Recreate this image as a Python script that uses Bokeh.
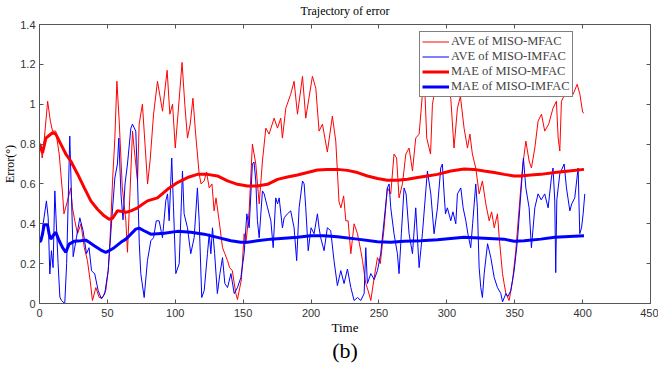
from bokeh.plotting import figure
from bokeh.models import (FixedTicker, LinearAxis, Legend, LegendItem,
                          CustomJSTickFormatter, Range1d)
from bokeh.embed import file_html
from bokeh.resources import INLINE

# ---- data -------------------------------------------------------------
x_ticks = [0, 50, 100, 150, 200, 250, 300, 350, 400, 450]
y_ticks = [0, 0.2, 0.4, 0.6, 0.8, 1.0, 1.2, 1.4]

series_names = ["AVE of MISO-MFAC", "AVE of MISO-IMFAC",
                "MAE of MISO-MFAC", "MAE of MISO-IMFAC"]

# absolute value of error, MISO-MFAC
ave_mfac_t = [0, 1, 2, 3.4, 6, 8, 9.6, 12, 14.5, 17, 18, 20.6, 23, 24.3, 26, 28, 30.5, 33,
              35.3, 37.3, 39, 41.5, 44, 46.4, 48.8, 50.6, 52, 53.8, 55.5, 57, 58.7, 61,
              63.6, 64.8, 66.8, 68.5, 69.7, 72.2, 73.4, 75.8, 79.6, 81.5, 84, 86.9, 90.6,
              94, 96, 98, 100, 102, 105, 107, 109, 111, 113, 115, 117.6, 119, 121.3, 123,
              125, 127, 128.6, 130, 132.3, 134.8, 136.5, 138.5, 140, 142, 144.6, 145.8,
              148.7, 150.7, 152, 154.4, 156.8, 159.3, 161.8, 164.2, 166.7, 169.1, 172.8,
              175.3, 177.7, 178.9, 181.4, 185, 187.5, 190, 193.7, 196.1, 201, 203.5, 205.9,
              208.4, 212, 215.7, 218.2, 220.6, 222, 224, 225.6, 227.3, 229.3, 231.7, 234.2,
              236.6, 237.9, 240.3, 242, 244, 246.5, 248.9, 251, 253.8, 256.2, 258.7, 261.1,
              263, 264.8, 267.3, 269.8, 272.2, 274.7, 277.1, 279.6, 282, 283.5, 285.2, 288,
              289.4, 292, 295, 298, 300, 302.9, 305.3, 307.8, 310, 312.7, 315.2, 317, 318.8,
              321.3, 323.8, 326.2, 328.7, 331.2, 333, 334.9, 337.3, 338.6, 341, 342.2, 343.5,
              345.9, 348.4, 350.8, 353.3, 355.7, 358.2, 360.6, 362.3, 364.8, 367.2, 369.7,
              372.1, 375, 378.2, 380.7, 382, 383.2, 384.4, 387, 390, 393, 396, 398, 400, 401]
ave_mfac = [0.80, 0.80, 0.73, 0.815, 1.015, 0.915, 0.865, 0.865, 0.75, 0.55, 0.45, 0.515,
            0.58, 0.48, 0.415, 0.35, 0.40, 0.28, 0.215, 0.115, 0.015, 0.08, 0.03, 0.03,
            0.065, 0.165, 0.33, 0.615, 0.83, 1.115, 0.915, 0.58, 0.415, 0.257, 0.58, 0.865,
            0.78, 0.615, 0.9, 1.0, 0.6, 0.72, 0.95, 1.115, 0.965, 1.17, 0.95, 1.0, 0.78,
            0.95, 1.21, 1.0, 0.83, 0.9, 1.03, 0.85, 0.65, 0.6, 0.615, 0.66, 0.58, 0.6,
            0.465, 0.53, 0.415, 0.28, 0.25, 0.215, 0.18, 0.165, 0.05, 0.02, 0.12, 0.35,
            0.3, 0.465, 0.8, 0.7, 0.5, 0.715, 0.88, 0.85, 0.93, 0.88, 0.93, 0.83, 0.98,
            1.05, 1.115, 0.95, 1.14, 0.93, 1.14, 1.08, 0.865, 0.9, 0.76, 0.94, 0.815, 0.51,
            0.48, 0.54, 0.415, 0.415, 0.25, 0.4, 0.35, 0.265, 0.215, 0.1, 0.065, 0.015,
            0.13, 0.23, 0.2, 0.38, 0.58, 0.55, 0.75, 0.73, 0.53, 0.6, 0.75, 0.78, 0.665,
            0.83, 0.85, 1.05, 1.12, 0.83, 0.75, 1.0, 1.1, 1.15, 1.05, 1.1, 1.03, 0.78, 0.98,
            1.04, 0.88, 0.78, 0.85, 0.75, 0.68, 0.55, 0.615, 0.5, 0.415, 0.46, 0.38, 0.45,
            0.33, 0.15, 0.1, 0.05, 0.015, 0.115, 0.265, 0.48, 0.68, 0.815, 0.715, 0.68,
            0.78, 0.915, 0.95, 0.865, 0.9, 0.98, 1.015, 0.83, 0.765, 1.015, 1.05, 1.1, 1.05,
            1.1, 1.05, 0.96, 0.955]

# absolute value of error, MISO-IMFAC
ave_imfac_t = [0, 1.5, 2.7, 5.1, 6.4, 7.6, 8.8, 10, 11.3, 13.7, 15, 16.2, 18.6, 20, 22.3,
               24.8, 27.2, 29.7, 32.1, 34.6, 36.5, 38.3, 40.7, 43.2, 45.6, 48, 50.6, 53,
               55.5, 57.4, 58.4, 60, 61.5, 63, 64.8, 67.3, 68.5, 70.9, 72.2, 73.5, 74.6,
               77.1, 79.5, 82, 84, 86, 88.1, 90.6, 93, 94.3, 95.5, 97.4, 98.7, 100.4, 102.9,
               105.3, 106.5, 109, 111.4, 113.9, 116.3, 117.6, 119.5, 121.3, 123.7, 125,
               126.2, 127.4, 129, 131, 132.9, 134.8, 136.5, 138.5, 141, 143.4, 145.8, 148.3,
               150.7, 152.7, 154.4, 156.8, 158, 159.3, 160.5, 161.8, 164.2, 165.5, 166.7,
               168, 170.4, 172.1, 174, 175.3, 176.5, 178.9, 180.2, 182.6, 185, 187.5, 189.4,
               191.2, 193.7, 194.9, 196.1, 197.9, 200, 202.2, 204.7, 205.9, 207.1, 209.6,
               212, 214.5, 216.9, 219.4, 221.9, 224.3, 226.8, 229.3, 231.7, 234.2, 236.6,
               239.1, 240.3, 241.5, 244, 246.5, 248.9, 251.3, 253.8, 256.2, 257.5, 258.7,
               261.1, 263.6, 264.8, 266.5, 268.5, 270, 272.2, 274.7, 277.1, 279.6, 282,
               284.5, 285.7, 288.2, 290.6, 293.1, 295.5, 296.7, 298, 299, 300.4, 302.9,
               304.5, 306.6, 307.8, 310.3, 312, 314, 315.5, 317.6, 319, 321.3, 322.5, 323.8,
               325, 326.2, 327.5, 330, 332.4, 334.9, 337.3, 339.8, 341, 343.5, 345, 347.1,
               349.6, 352, 354.5, 356.4, 358.2, 360.6, 362.3, 364.8, 367.2, 369.5, 372.1,
               374.6, 377, 378.2, 379.5, 380.2, 381, 383.2, 386.4, 388.1, 390.6, 392, 394.2,
               396.7, 397.9, 399.2, 400.4, 401.6]
ave_imfac = [0.31, 0.315, 0.4, 0.515, 0.43, 0.148, 0.265, 0.18, 0.565, 0.2, 0.032, 0.015,
             0.0, 0.2, 0.84, 0.235, 0.33, 0.43, 0.365, 0.25, 0.28, 0.165, 0.148, 0.065,
             0.023, 0.048, 0.165, 0.4, 0.63, 0.7, 0.83, 0.55, 0.42, 0.6, 0.7, 0.88, 0.9,
             0.865, 0.615, 0.3, 0.15, 0.03, 0.215, 0.315, 0.33, 0.415, 0.415, 0.33, 0.515,
             0.55, 0.415, 0.73, 0.48, 0.15, 0.2, 0.665, 0.45, 0.38, 0.25, 0.33, 0.58, 0.415,
             0.03, 0.065, 0.25, 0.35, 0.25, 0.38, 0.25, 0.05, 0.15, 0.23, 0.1, 0.08, 0.15,
             0.05, 0.08, 0.13, 0.25, 0.45, 0.38, 0.7, 0.71, 0.615, 0.415, 0.33, 0.565, 0.55,
             0.515, 0.48, 0.415, 0.28, 0.53, 0.5, 0.53, 0.38, 0.43, 0.45, 0.465, 0.38, 0.215,
             0.48, 0.615, 0.6, 0.48, 0.265, 0.38, 0.35, 0.45, 0.38, 0.33, 0.265, 0.38, 0.365,
             0.215, 0.09, 0.165, 0.1, 0.173, 0.08, 0.015, 0.03, 0.015, 0.05, 0.28, 0.1,
             0.15, 0.12, 0.165, 0.25, 0.415, 0.58, 0.6, 0.48, 0.35, 0.25, 0.15, 0.35, 0.58,
             0.55, 0.35, 0.25, 0.48, 0.18, 0.35, 0.565, 0.665, 0.55, 0.35, 0.48, 0.68, 0.7,
             0.55, 0.45, 0.48, 0.415, 0.46, 0.4, 0.55, 0.58, 0.48, 0.415, 0.35, 0.28, 0.4,
             0.6, 0.48, 0.18, 0.08, 0.03, 0.15, 0.3, 0.23, 0.13, 0.08, 0.05, 0.008, 0.05,
             0.035, 0.065, 0.165, 0.315, 0.55, 0.73, 0.58, 0.48, 0.28, 0.48, 0.55, 0.52,
             0.55, 0.48, 0.63, 0.68, 0.515, 0.155, 0.52, 0.65, 0.7, 0.58, 0.465, 0.5, 0.53,
             0.68, 0.35, 0.38, 0.45, 0.55]

# mean absolute error, MISO-MFAC
mae_mfac_t = [0, 2.2, 4.7, 9.6, 12, 15.7, 19.4, 23, 28, 33, 37.8, 42.7, 47.6, 51.3, 53.8,
              57.4, 61, 63.6, 67.3, 72.2, 79.5, 86.9, 94.3, 101.6, 109, 116.3, 123.7, 131,
              138.5, 145.8, 153.2, 160.5, 167.9, 175.3, 182.6, 190, 197.3, 204.7, 212,
              219.4, 226.8, 234.2, 241.5, 248.9, 256.2, 263.6, 271, 278.4, 285.7, 293.1,
              302.9, 312.7, 320, 327.4, 334.9, 342.2, 349.6, 354.5, 361.8, 369.2, 379.5,
              390, 401]
mae_mfac = [0.80, 0.755, 0.83, 0.857, 0.85, 0.80, 0.75, 0.715, 0.65, 0.58, 0.515, 0.473,
            0.44, 0.423, 0.428, 0.465, 0.462, 0.457, 0.465, 0.48, 0.515, 0.53, 0.573, 0.607,
            0.632, 0.648, 0.648, 0.64, 0.615, 0.598, 0.59, 0.59, 0.598, 0.623, 0.635, 0.645,
            0.657, 0.67, 0.673, 0.673, 0.668, 0.657, 0.64, 0.627, 0.618, 0.618, 0.623, 0.632,
            0.64, 0.648, 0.665, 0.675, 0.673, 0.665, 0.657, 0.648, 0.64, 0.64, 0.645, 0.648,
            0.657, 0.665, 0.673]

# mean absolute error, MISO-IMFAC
mae_imfac_t = [0, 1, 2.2, 3.4, 5.9, 7.1, 8.3, 10.8, 12, 14.5, 17, 19.4, 21.8, 25.5, 30.4,
               34.1, 36.6, 40.3, 45.2, 48.8, 51.3, 55, 59.9, 63.6, 67.3, 70.9, 73.4, 77, 82,
               91.8, 101.6, 111.4, 121.3, 131, 141, 148.3, 153.2, 160.5, 170.4, 180.2, 190,
               199.8, 209.6, 219.4, 234.2, 248.9, 258.7, 268.5, 280.8, 293.1, 312.7, 327.4,
               342.2, 349.6, 357, 369.2, 379.5, 390, 401]
mae_imfac = [0.31, 0.315, 0.348, 0.395, 0.395, 0.348, 0.323, 0.348, 0.357, 0.315, 0.28,
             0.257, 0.298, 0.312, 0.315, 0.318, 0.307, 0.29, 0.268, 0.257, 0.265, 0.28,
             0.307, 0.323, 0.348, 0.373, 0.378, 0.365, 0.348, 0.352, 0.362, 0.357, 0.348,
             0.332, 0.315, 0.307, 0.307, 0.315, 0.323, 0.328, 0.332, 0.34, 0.34, 0.335,
             0.323, 0.31, 0.307, 0.312, 0.315, 0.32, 0.332, 0.328, 0.323, 0.312, 0.315,
             0.323, 0.332, 0.336, 0.34]

# ---- figure -----------------------------------------------------------
SERIF = "Liberation Serif"
SANS = "Liberation Sans"
FRAME = "#555555"

p = figure(width=658, height=370, x_range=Range1d(0, 450), y_range=Range1d(0, 1.4),
           output_backend="svg", toolbar_location=None)
p.min_border_left = 38
p.min_border_right = 8
p.min_border_top = 23
p.min_border_bottom = 67
p.grid.visible = False
p.outline_line_color = FRAME
p.background_fill_color = "white"
p.border_fill_color = "white"

tick_fmt = CustomJSTickFormatter(code="return String(Math.round(tick * 10) / 10);")
blank_fmt = CustomJSTickFormatter(code="return '';")


def style_axis(ax, labels=True):
    ax.major_tick_in = 4
    ax.major_tick_out = 0
    ax.minor_tick_line_color = None
    ax.axis_line_color = FRAME
    ax.major_tick_line_color = FRAME
    ax.axis_label_text_font = SERIF
    ax.axis_label_text_font_style = "normal"
    ax.axis_label_text_color = "black"
    if labels:
        ax.major_label_text_font = SANS
        ax.major_label_text_font_size = "11px"
        ax.major_label_text_color = "#333333"
        ax.major_label_standoff = 5
    else:
        ax.formatter = blank_fmt
        ax.major_label_text_font_size = "1px"
        ax.major_label_standoff = 0


p.xaxis.ticker = FixedTicker(ticks=x_ticks)
p.yaxis.ticker = FixedTicker(ticks=y_ticks)
p.yaxis.formatter = tick_fmt
style_axis(p.xaxis[0])
style_axis(p.yaxis[0])
p.xaxis.axis_label = "Time"
p.xaxis.axis_label_text_font_size = "13px"
p.xaxis.axis_label_standoff = 0
p.yaxis.axis_label = "Error(°)"
p.yaxis.axis_label_text_font_size = "12px"
p.yaxis.axis_label_standoff = 0
p.yaxis.major_label_standoff = 4

# top axis: mirrored ticks, carries the chart title
top_axis = LinearAxis(ticker=FixedTicker(ticks=x_ticks))
style_axis(top_axis, labels=False)
top_axis.axis_label = "Trajectory of error"
top_axis.axis_label_text_font_size = "12px"
top_axis.axis_label_standoff = 7
p.add_layout(top_axis, "above")

right_axis = LinearAxis(ticker=FixedTicker(ticks=y_ticks))
style_axis(right_axis, labels=False)
p.add_layout(right_axis, "right")

# second bottom axis without line or ticks, carries the panel tag
tag_axis = LinearAxis(ticker=FixedTicker(ticks=[]))
style_axis(tag_axis, labels=False)
tag_axis.axis_line_color = None
tag_axis.major_tick_line_color = None
tag_axis.axis_label = "(b)"
tag_axis.axis_label_text_font_size = "22px"
tag_axis.axis_label_standoff = 0
p.add_layout(tag_axis, "below")

r1 = p.line(ave_mfac_t, ave_mfac, line_color="#ff0000", line_width=1)
r2 = p.line(ave_imfac_t, ave_imfac, line_color="#0000ff", line_width=1)
r3 = p.line(mae_mfac_t, mae_mfac, line_color="#ff0000", line_width=3)
r4 = p.line(mae_imfac_t, mae_imfac, line_color="#0000ff", line_width=3)

legend = Legend(items=[LegendItem(label=n, renderers=[r])
                       for n, r in zip(series_names, [r1, r2, r3, r4])],
                location=(380, 206), border_line_color="black", border_line_width=1,
                background_fill_color="white", background_fill_alpha=1.0,
                label_text_font=SERIF, label_text_font_size="12.5px",
                glyph_width=27, glyph_height=15, label_height=15, spacing=0,
                padding=2, margin=0, label_standoff=2)
p.add_layout(legend)

open("out.html", "w").write(file_html(p, INLINE))
